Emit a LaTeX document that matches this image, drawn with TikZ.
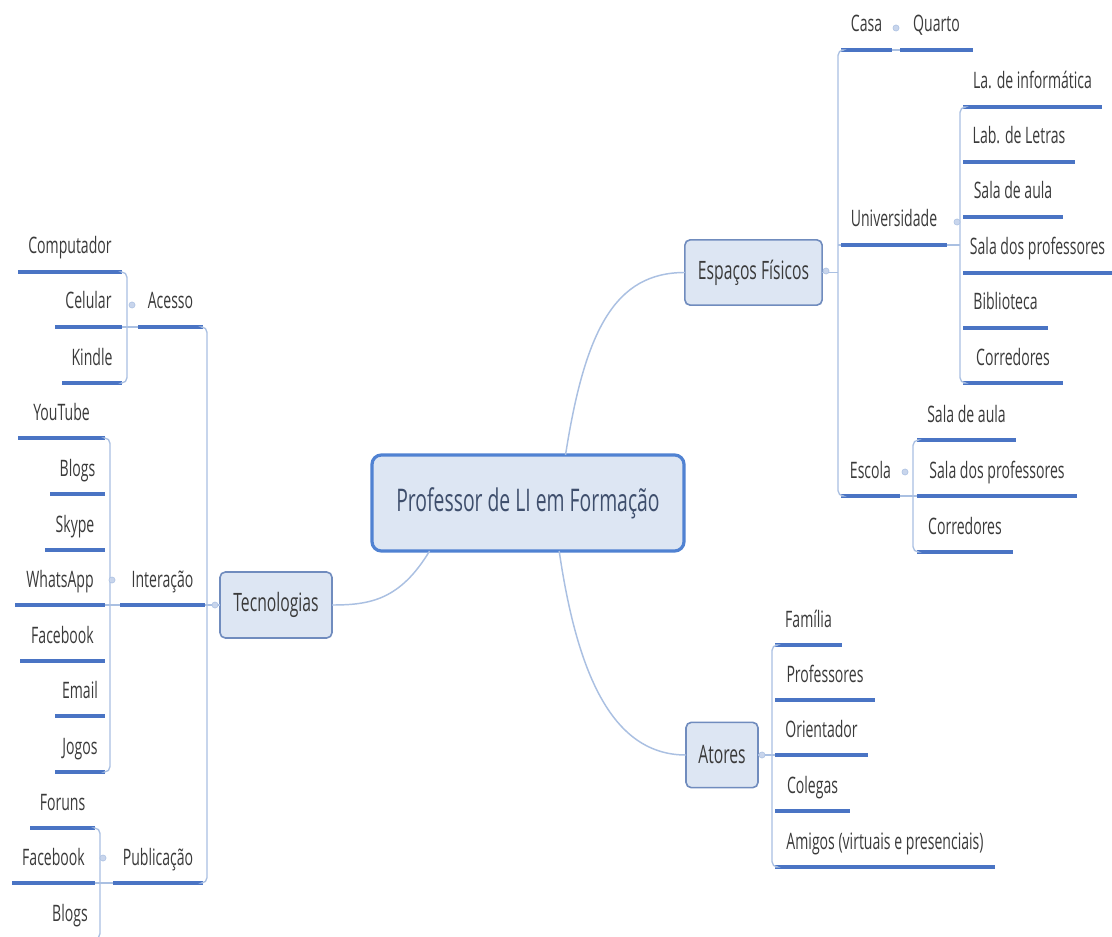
\documentclass[tikz,border=0pt]{standalone}
\usepackage{fontspec}
\setmainfont{Open Sans}[FakeStretch=0.62]
\definecolor{ulc}{RGB}{74,116,196}
\definecolor{spc}{RGB}{170,192,226}
\definecolor{boxf}{RGB}{221,230,243}
\definecolor{boxd}{RGB}{112,140,190}
\definecolor{cend}{RGB}{80,130,210}
\definecolor{txtc}{RGB}{58,58,58}
\definecolor{ctxt}{RGB}{62,78,108}
\definecolor{dotc}{RGB}{200,213,236}
\newcommand\leafnode[5]{%
  \node[leaf, minimum width={(#3-#2)*0.75pt}, anchor=south west] (#1) at (#2,#4) {#5};
  \draw[uline] (#1.south west) -- (#1.south east);}
\begin{document}
\begin{tikzpicture}[x=0.75pt,y=-0.75pt,
  leaf/.style={font=\fontsize{17}{19}\selectfont, text=txtc, inner sep=0pt, outer sep=0pt,
    text height=11pt, text depth=13.5pt},
  uline/.style={draw=ulc, line width=2.3pt},
  spine/.style={draw=spc, line width=1pt, rounded corners=4pt},
  conn/.style={draw=spc, line width=1.1pt},
  sub/.style={draw=boxd, line width=1.2pt, fill=boxf, rounded corners=4pt, text=txtc,
    font=\fontsize{19}{21}\selectfont, inner sep=0pt, outer sep=0pt},
  central/.style={draw=cend, line width=2.4pt, fill=boxf, rounded corners=7pt, text=ctxt,
    font=\fontsize{23.4}{25}\selectfont, inner sep=0pt, outer sep=0pt,
    minimum width=234pt, minimum height=72pt},
  dotm/.style={fill=dotc, draw=spc, line width=0.4pt}]
\useasboundingbox (0,0) rectangle (1112,937);
\clip (0,0) rectangle (1112,937);
\fill[white] (0,0) rectangle (1112,937);

% main topics
\node[central] (C) at (528,503) {Professor de LI em Formação};
\node[sub, minimum width=84pt, minimum height=49.5pt] (tec) at (276,605) {Tecnologias};
\node[sub, minimum width=103pt, minimum height=49pt] (esp) at (753.5,272.5) {Espaços Físicos};
\node[sub, minimum width=54pt, minimum height=49pt] (atr) at (722,755) {Atores};

\draw[conn] (C.52.4) .. controls (585,330) and (615,272.5) .. (esp.west);
\draw[conn] (C.303.7) .. controls (578,680) and (615,755) .. (atr.west);
\draw[conn] (C.206.6) .. controls (400,600) and (370,605) .. (tec.east);

% ---------- Tecnologias ----------
\leafnode{acc}{138}{203}{327}{Acesso}
\leafnode{int}{120}{205}{605}{Interação}
\leafnode{pub}{113}{203}{883}{Publicação}
\draw[spine] (acc.south east) -- ++(4,0) |- (pub.south east);
\draw[spine] (int.south east) -- (tec.west);

\leafnode{cmp}{18}{122}{272}{Computador}
\leafnode{cel}{55}{122}{327}{Celular}
\leafnode{kin}{62}{122}{383}{Kindle}
\draw[spine] (cmp.south east) -- ++(5,0) |- (kin.south east);
\draw[spine] (cel.south east) -- (acc.south west);

\leafnode{ytb}{18}{105}{438}{YouTube}
\leafnode{blg}{50}{105}{494}{Blogs}
\leafnode{sky}{45}{105}{550}{Skype}
\leafnode{wap}{15}{105}{605}{WhatsApp}
\leafnode{fbk}{20}{105}{661}{Facebook}
\leafnode{eml}{55}{105}{716}{Email}
\leafnode{jog}{55}{105}{772}{Jogos}
\draw[spine] (ytb.south east) -- ++(5,0) |- (jog.south east);
\draw[spine] (wap.south east) -- (int.south west);

\leafnode{for}{30}{95}{828}{Foruns}
\leafnode{fbb}{12}{95}{883}{Facebook}
\leafnode{blb}{45}{95}{939}{Blogs}
\draw[spine] (for.south east) -- ++(5,0) |- (blb.south east);
\draw[spine] (fbb.south east) -- (pub.south west);

% ---------- Espaços Físicos ----------
\leafnode{cas}{841}{892}{50}{Casa}
\leafnode{qua}{900}{973}{50}{Quarto}
\leafnode{uni}{841}{947}{245}{Universidade}
\leafnode{esc}{841}{900}{496}{Escola}
\draw[spine] (cas.south west) -- ++(-3,0) |- (esc.south west);
\draw[spine] (esp.east) -- ++(16,0);
\draw[spine] (uni.south west) -- ++(-3,0);
\draw[spine] (cas.south east) -- (qua.south west);

\leafnode{lai}{963}{1102}{107}{La. de informática}
\leafnode{lab}{963}{1075}{162}{Lab. de Letras}
\leafnode{saa}{963}{1063}{217}{Sala de aula}
\leafnode{spa}{963}{1112}{273}{Sala dos professores}
\leafnode{bib}{963}{1048}{328}{Biblioteca}
\leafnode{coa}{963}{1063}{383}{Corredores}
\draw[spine] (lai.south west) -- ++(-3,0) |- (coa.south west);
\draw[spine] (uni.south east) -- ++(13,0);

\leafnode{sab}{917}{1016}{440}{Sala de aula}
\leafnode{spb}{917}{1077}{496}{Sala dos professores}
\leafnode{cob}{917}{1013}{552}{Corredores}
\draw[spine] (sab.south west) -- ++(-4,0) |- (cob.south west);
\draw[spine] (esc.south east) -- (spb.south west);

% ---------- Atores ----------
\leafnode{fam}{775}{842}{645}{Família}
\leafnode{pro}{775}{875}{700}{Professores}
\leafnode{ori}{775}{868}{755}{Orientador}
\leafnode{col}{775}{850}{811}{Colegas}
\leafnode{ami}{775}{995}{867}{Amigos (virtuais e presenciais)}
\draw[spine] (fam.south west) -- ++(-3,0) |- (ami.south west);
\draw[spine] (atr.east) -- (ori.south west);

% collapse markers
\foreach \p in {(132,305),(112,580),(103,858),(215,605),(826,271),(896,28),(957,222),(905,472),(762,755)}
  \draw[dotm] \p circle[radius=2.3pt];
\end{tikzpicture}
\end{document}
